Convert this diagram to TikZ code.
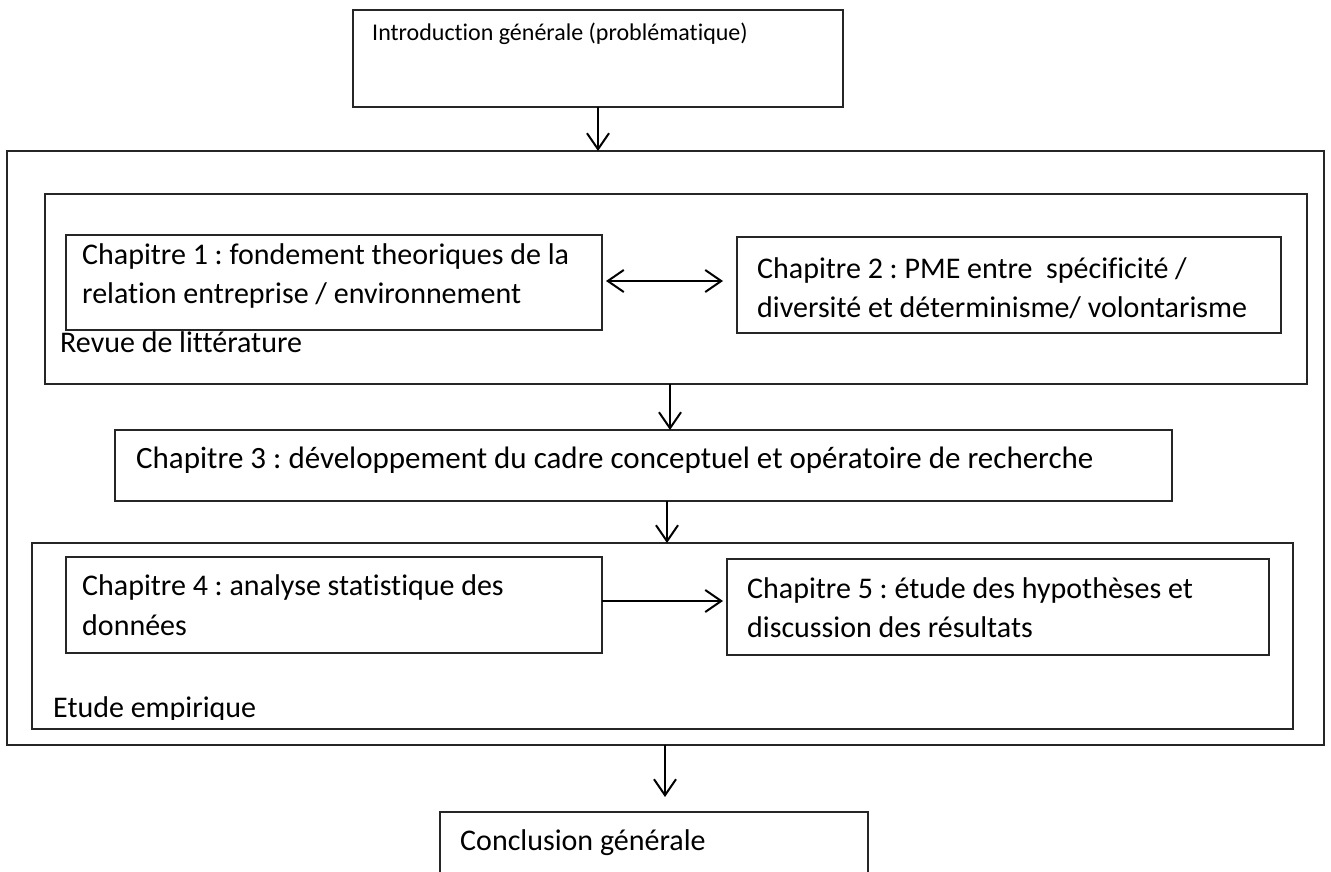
\documentclass[tikz,border=0pt]{standalone}
\usepackage{fontspec}
\setmainfont{Carlito}[Ligatures={NoCommon}]
\usetikzlibrary{arrows.meta}
\frenchspacing
\begin{document}
\begin{tikzpicture}[x=1pt,y=-1pt,
  box/.style={draw=black!85,line width=1.3pt,inner sep=0pt,outer sep=0pt,anchor=north west},
  txt/.style={anchor=base west,inner sep=0pt,font=\fontsize{30}{39}\selectfont},
  smalltxt/.style={anchor=base west,inner sep=0pt,font=\fontsize{24}{30}\selectfont},
  flow/.style={line width=2pt,-{Straight Barb[length=16pt,width=22pt,line width=2pt]}},
  both/.style={line width=2pt,{Straight Barb[length=16pt,width=22pt,line width=2pt]}-{Straight Barb[length=16pt,width=22pt,line width=2pt]}}]
\clip (0,0) rectangle (1331,872);
\fill[white] (0,0) rectangle (1331,872);

% boxes
\node[box,minimum width=490pt,minimum height=97pt]  (intro) at (353,10)  {};
\node[box,minimum width=1317pt,minimum height=594pt] (outer) at (7,151)   {};
\node[box,minimum width=1262pt,minimum height=190pt] (revue) at (45,194)  {};
\node[box,minimum width=536pt,minimum height=95pt]  (ch1)   at (66,235)  {};
\node[box,minimum width=544pt,minimum height=96pt]  (ch2)   at (737,237) {};
\node[box,minimum width=1057pt,minimum height=71pt] (ch3)   at (115,430) {};
\node[box,minimum width=1261pt,minimum height=186pt] (etude) at (32,543)  {};
\node[box,minimum width=536pt,minimum height=96pt]  (ch4)   at (66,557)  {};
\node[box,minimum width=542pt,minimum height=96pt]  (ch5)   at (727,559) {};
\node[box,minimum width=428pt,minimum height=100pt] (concl) at (440,812) {};

% texts
\node[smalltxt] (tintro) at (372,41) {Introduction générale (problématique)};
\node[txt] (tch1a) at (82,264) {Chapitre 1 : fondement theoriques de la};
\node[txt] (tch1b) at (82,303) {relation entreprise / environnement};
\node[txt] (tch2a) at (757,278) {Chapitre 2 : PME entre \ spécificité /};
\node[txt] (tch2b) at (757,317) {diversité et déterminisme/ volontarisme};
\node[txt] (trevue) at (60,352) {Revue de littérature};
\node[txt,font=\fontsize{31}{39}\selectfont] (tch3) at (136,468) {Chapitre 3 : développement du cadre conceptuel et opératoire de recherche};
\node[txt] (tch4a) at (82,595) {Chapitre 4 : analyse statistique des};
\node[txt] (tch4b) at (82,635) {données};
\node[txt] (tch5a) at (747,598) {Chapitre 5 : étude des hypothèses et};
\node[txt] (tch5b) at (747,637) {discussion des résultats};
\begin{scope}
  \clip (40,680) rectangle (400,719);
  \node[txt] (tetude) at (53,717) {Etude empirique};
\end{scope}
\node[txt] (tconcl) at (460,850) {Conclusion générale};

% connectors
\coordinate (a1) at (598,0);
\draw[flow] (intro.south -| a1) -- (outer.north -| a1);
\draw[both] ([xshift=4pt]ch1.east |- 0,281) -- ([xshift=-14pt]ch2.west |- 0,281);
\coordinate (a2) at (670,0);
\draw[flow] (revue.south -| a2) -- (ch3.north -| a2);
\coordinate (a3) at (667,0);
\draw[flow] (ch3.south -| a3) -- (etude.north -| a3);
\draw[flow] (ch4.east |- 0,601) -- ([xshift=-4pt]ch5.west |- 0,601);
\coordinate (a4) at (665,0);
\draw[flow] (outer.south -| a4) -- ([yshift=15pt]concl.north -| a4);
\end{tikzpicture}
\end{document}
